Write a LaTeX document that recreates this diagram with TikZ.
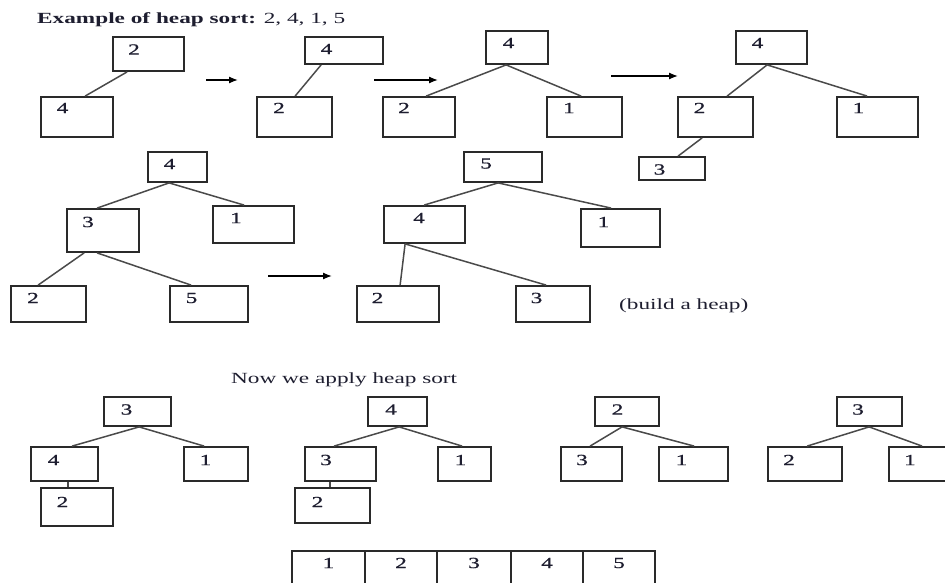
\documentclass[tikz,border=0pt]{standalone}
\usepackage{fontspec}
\setmainfont[FakeStretch=1.5]{Liberation Serif}
\newfontfamily\digitfont[FakeStretch=1.5,FakeBold=0.8]{Liberation Serif}
\usetikzlibrary{calc,arrows.meta}
\definecolor{boxline}{HTML}{2A2A2A}
\definecolor{edgeline}{HTML}{4A4A4A}
\definecolor{txt}{HTML}{1E1E30}
\tikzset{
  hbox/.style={draw=boxline, line width=1.8pt, rectangle, inner sep=0pt},
  digit/.style={inner sep=0pt, text=txt, font=\digitfont\fontsize{15.5}{18}\selectfont},
  label text/.style={inner sep=0pt, text=txt, font=\fontsize{15.5}{18}\selectfont},
  edge/.style={draw=edgeline, line width=1.5pt},
  stepArrow/.style={draw=black, line width=1.3pt, -{Latex[length=9pt,width=7pt]}},
  arrline/.style={draw=boxline, line width=1.6pt},
  arrsep/.style={draw=boxline, line width=2.4pt}
}
% #1 name, #2 x1, #3 y1, #4 x2, #5 y2, #6 digit, #7 tx, #8 ty
\newcommand\heapbox[8]{%
  \node[hbox, minimum width={(#4)-(#2)}, minimum height={(#5)-(#3)}] (#1) at ({((#2)+(#4))/2},{((#3)+(#5))/2}) {};
  \node[digit] (#1t) at (#7,#8) {#6};
}
% #1 from node, #2 offset from its left, #3 to node, #4 offset from its left
\newcommand\heapconn[4]{%
  \draw[edge] ($(#1.south west)+(#2,0)$) -- ($(#3.north west)+(#4,0)$);
}
\begin{document}
\begin{tikzpicture}[x=1pt,y=-1pt]
\useasboundingbox (0,0) rectangle (945,583);
\clip (0,0) rectangle (945,583);

\node[label text, anchor=base west] (title) at (37,24) {\textbf{Example of heap sort:} 2, 4, 1, 5};

% tree 1
\heapbox{a1}{113}{37}{184}{71}{2}{134}{49.5}
\heapbox{a2}{41}{97}{113}{137}{4}{62.5}{108}
\heapconn{a1}{15}{a2}{45}
% tree 2
\heapbox{b1}{305}{37}{383}{64}{4}{326.5}{49}
\heapbox{b2}{257}{97}{332}{137}{2}{279}{108}
\heapconn{b1}{17}{b2}{39}
% tree 3
\heapbox{c1}{486}{31}{548}{64}{4}{508.5}{43}
\heapbox{c2}{383}{97}{455}{137}{2}{404}{108}
\heapbox{c3}{547}{97}{622}{137}{1}{569}{108}
\heapconn{c1}{21}{c2}{44}
\heapconn{c1}{21}{c3}{35}
% tree 4
\heapbox{d1}{736}{31}{807}{64}{4}{757.5}{43}
\heapbox{d2}{678}{97}{753}{137}{2}{699.5}{108}
\heapbox{d3}{837}{97}{918}{137}{1}{858.5}{108}
\heapbox{d4}{639}{157}{705}{180}{3}{659.5}{169.5}
\heapconn{d1}{32}{d2}{50}
\heapconn{d1}{32}{d3}{31}
\heapconn{d2}{25}{d4}{40}
% tree 5
\heapbox{e1}{148}{152}{207}{182}{4}{169.5}{164}
\heapbox{e2}{67}{209}{139}{252}{3}{88}{222}
\heapbox{e3}{213}{206}{294}{243}{1}{236}{218}
\heapbox{e4}{11}{286}{86}{322}{2}{33}{298}
\heapbox{e5}{170}{286}{248}{322}{5}{191.5}{298}
\heapconn{e1}{22}{e2}{31}
\heapconn{e1}{22}{e3}{32}
\heapconn{e2}{18}{e4}{28}
\heapconn{e2}{31}{e5}{22}
% tree 6
\heapbox{f1}{464}{152}{542}{182}{5}{486}{163.5}
\heapbox{f2}{384}{206}{465}{243}{4}{419}{218}
\heapbox{f3}{581}{209}{660}{247}{1}{603.5}{222}
\heapbox{f4}{357}{286}{439}{322}{2}{377.5}{298}
\heapbox{f5}{516}{286}{590}{322}{3}{536.5}{298}
\heapconn{f1}{35}{f2}{41}
\heapconn{f1}{35}{f3}{31}
\heapconn{f2}{22}{f4}{44}
\heapconn{f2}{22}{f5}{31}
\node[label text, anchor=base west] (build) at (619,309) {(build a heap)};

% arrows
\coordinate (r1s) at (206,80); \coordinate (r1e) at (238,80);
\coordinate (r2s) at (374,80); \coordinate (r2e) at (438,80);
\coordinate (r3s) at (611,76); \coordinate (r3e) at (678,76);
\coordinate (r4s) at (268,276); \coordinate (r4e) at (332,276);
\draw[stepArrow] (r1s) -- (r1e);
\draw[stepArrow] (r2s) -- (r2e);
\draw[stepArrow] (r3s) -- (r3e);
\draw[stepArrow] (r4s) -- (r4e);

\node[label text, anchor=base west] (now) at (231,383) {Now we apply heap sort};

% tree 7
\heapbox{g1}{104}{397}{171}{426}{3}{126.5}{409.5}
\heapbox{g2}{31}{447}{98}{481}{4}{53.5}{460}
\heapbox{g3}{184}{447}{248}{481}{1}{205.5}{460}
\heapbox{g4}{41}{488}{113}{526}{2}{62.5}{502}
\heapconn{g1}{36}{g2}{42}
\heapconn{g1}{36}{g3}{21}
\heapconn{g2}{38}{g4}{28}
% tree 8
\heapbox{h1}{368}{397}{427}{426}{4}{391}{409.5}
\heapbox{h2}{305}{447}{376}{481}{3}{326}{460}
\heapbox{h3}{438}{447}{491}{481}{1}{460.5}{460}
\heapbox{h4}{295}{488}{370}{523}{2}{317.5}{502}
\heapconn{h1}{32}{h2}{30}
\heapconn{h1}{32}{h3}{25}
\heapconn{h2}{26}{h4}{36}
% tree 9
\heapbox{i1}{595}{397}{659}{426}{2}{617.5}{409.5}
\heapbox{i2}{561}{447}{622}{481}{3}{582}{460}
\heapbox{i3}{659}{447}{728}{481}{1}{681.5}{460}
\heapconn{i1}{28}{i2}{30}
\heapconn{i1}{28}{i3}{36}
% tree 10
\heapbox{j1}{837}{397}{902}{426}{3}{858}{409.5}
\heapbox{j2}{768}{447}{842}{481}{2}{789}{460}
\heapbox{j3}{889}{447}{960}{481}{1}{910}{460}
\heapconn{j1}{33}{j2}{40}
\heapconn{j1}{33}{j3}{34}

% sorted array
\node[digit] (s1) at (328.5,563) {1};
\node[digit] (s2) at (401,563) {2};
\node[digit] (s3) at (474,563) {3};
\node[digit] (s4) at (547,563) {4};
\node[digit] (s5) at (619,563) {5};
\draw[arrline] (292,551) -- (655,551);
\foreach \xx in {292,365,437,511,583,655} {
  \draw[arrsep] (\xx,550) -- (\xx,590);
}
\end{tikzpicture}
\end{document}
